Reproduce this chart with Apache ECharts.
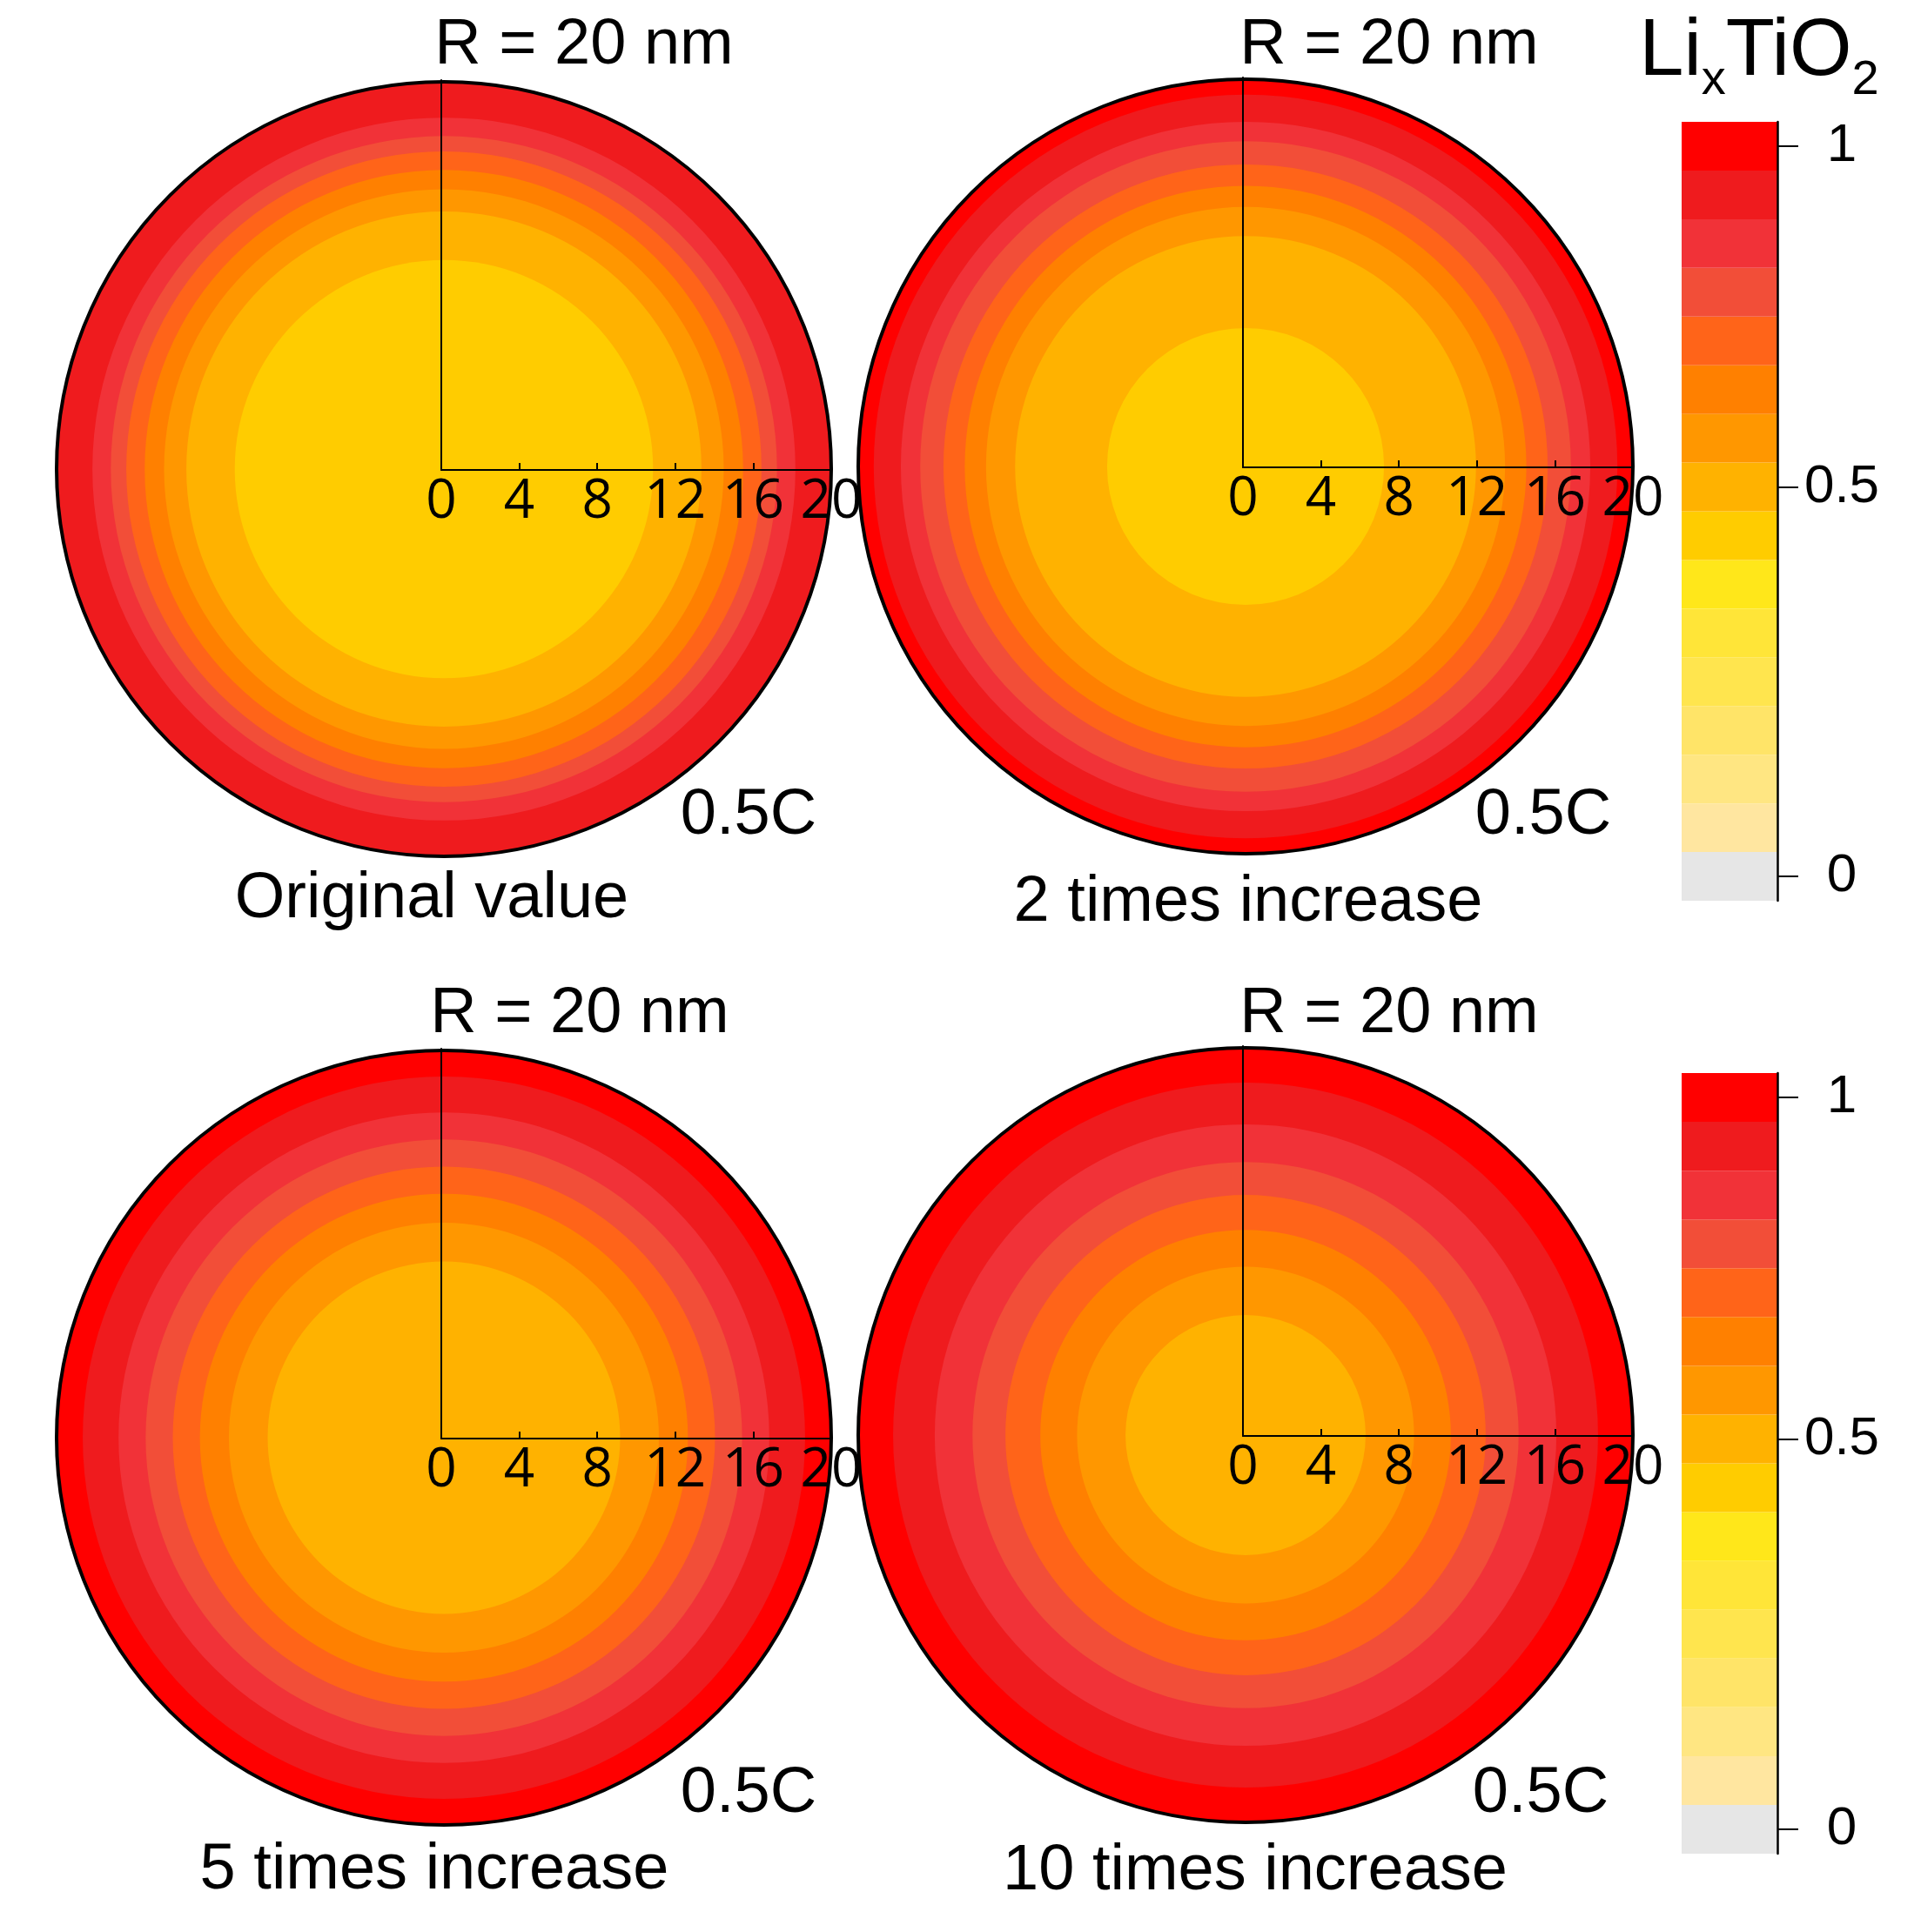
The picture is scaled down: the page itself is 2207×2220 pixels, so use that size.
<!DOCTYPE html>
<html>
<head>
<meta charset="utf-8">
<script src="https://cdn.jsdelivr.net/npm/echarts@6/dist/echarts.min.js"></script>
<style>
html,body{margin:0;padding:0;background:#fff;}
#chart{width:2207px;height:2220px;}
</style>
</head>
<body>
<div id="chart"></div>
<script>
// ---- data ----
// colour levels of the contour map, from level 0 (grey) up to level 15 (red)
const bandColors = ['#E6E6E6','#FFE6A0','#FFE682','#FFE468','#FFE54E','#FFE538','#FFE71A','#FFCC00',
                    '#FFB200','#FF9700','#FF8000','#FF6419','#F24E38','#F13238','#EF1B1E','#FF0000'];
const cbarTickLabels = ['0','','','','','','','','0.5','','','','','','','1'];
const cbarTitle = ['Li','x','TiO','2'];
const radiusLabel = 'R = 20 nm';
const rateLabel = '0.5C';
const panelTitles = ['Original value','2 times increase','5 times increase','10 times increase'];
// contour bands from centre outwards: level index and outer radius (nm)
const origLevels = [7, 8, 9, 10, 11, 12, 13, 14];
const origRadii  = [10.8, 13.3, 14.45, 15.45, 16.4, 17.2, 18.15, 20];
const x2Levels   = [7, 8, 9, 10, 11, 12, 13, 14, 15];
const x2Radii    = [7.15, 11.9, 13.4, 14.5, 15.6, 16.8, 17.8, 19.2, 20];
const x5Levels   = [8, 9, 10, 11, 12, 13, 14, 15];
const x5Radii    = [9.1, 11.1, 12.6, 14.0, 15.4, 16.8, 18.65, 20];
const x10Levels  = [8, 9, 10, 11, 12, 13, 14, 15];
const x10Radii   = [6.2, 8.7, 10.6, 12.4, 14.1, 16.05, 18.2, 20];
const rMax = 20, rTickStep = 4;

// ---- layout ----
const R = 445;
const panels = [
  {levels: origLevels, radii: origRadii, c: [510, 539],  o: [507, 540],  rl: [671, 53],   rate: [860, 938],  tt: [496, 1034]},
  {levels: x2Levels,   radii: x2Radii,   c: [1431, 536], o: [1428, 537], rl: [1596, 53],  rate: [1773, 938], tt: [1434, 1038]},
  {levels: x5Levels,   radii: x5Radii,   c: [510, 1652], o: [507, 1653], rl: [666, 1166], rate: [860, 2062], tt: [499, 2150]},
  {levels: x10Levels,  radii: x10Radii,  c: [1431, 1649],o: [1428, 1650],rl: [1596, 1166],rate: [1770, 2062],tt: [1442, 2151]}
];
const cbars = [{top: 140, height: 895}, {top: 1233, height: 897}];
const cbarLeft = 1932, cbarWidth = 110;

const mainFont = '"Liberation Sans", Arial, sans-serif';
const tickFont = '"Open Sans", "DejaVu Sans", sans-serif';

const polar = [], angleAxis = [], radiusAxis = [], grid = [], xAxis = [], yAxis = [], series = [], graphic = [];

panels.forEach((p, i) => {
  polar.push({center: p.c, radius: R});
  angleAxis.push({polarIndex: i, type: 'category', data: ['all'], startAngle: 90, boundaryGap: true, z: 10,
    axisLine: {show: true, lineStyle: {color: '#000', width: 4}},
    axisTick: {show: false}, axisLabel: {show: false}, splitLine: {show: false}, splitArea: {show: false}});
  radiusAxis.push({polarIndex: i, type: 'value', min: 0, max: rMax, show: false,
    splitLine: {show: false}, axisLine: {show: false}});
  for (let k = p.radii.length - 1; k >= 0; k--) {
    series.push({type: 'bar', coordinateSystem: 'polar', polarIndex: i, silent: true,
      barGap: '-100%', barCategoryGap: '0%',
      data: [p.radii[k]], itemStyle: {color: bandColors[p.levels[k]]}});
  }
  // axes of the quarter plot
  const w = p.c[0] + R - p.o[0];
  grid.push({left: p.o[0], top: p.o[1] - w, width: w, height: w, containLabel: false});
  xAxis.push({gridIndex: i, type: 'value', min: 0, max: rMax, interval: rTickStep, z: 10,
    axisLine: {show: true, lineStyle: {color: '#000', width: 2}},
    axisTick: {show: true, inside: true, length: 8, lineStyle: {color: '#000', width: 2}},
    axisLabel: {show: true, color: '#000', fontFamily: tickFont, fontSize: 62, margin: 6},
    splitLine: {show: false}});
  yAxis.push({gridIndex: i, type: 'value', min: 0, max: rMax, z: 10,
    axisLine: {show: true, lineStyle: {color: '#000', width: 2}},
    axisTick: {show: false}, axisLabel: {show: false}, splitLine: {show: false}});
  graphic.push({type: 'text', x: p.rl[0], y: p.rl[1], z: 100,
    style: {text: radiusLabel, fill: '#000', font: '74px ' + mainFont, align: 'center', verticalAlign: 'middle'}});
  graphic.push({type: 'text', x: p.rate[0], y: p.rate[1], z: 100,
    style: {text: rateLabel, fill: '#000', font: '74px ' + mainFont, align: 'center', verticalAlign: 'middle'}});
  graphic.push({type: 'text', x: p.tt[0], y: p.tt[1], z: 100,
    style: {text: panelTitles[i], fill: '#000', font: '74px ' + mainFont, align: 'center', verticalAlign: 'middle'}});
});

cbars.forEach((cb, j) => {
  const gi = panels.length + j;
  grid.push({left: cbarLeft, top: cb.top, width: cbarWidth, height: cb.height});
  xAxis.push({gridIndex: gi, type: 'value', min: 0, max: 1, show: false});
  const showIdx = (idx) => cbarTickLabels[idx] !== '';
  yAxis.push({gridIndex: gi, type: 'category', position: 'right', z: 10,
    data: bandColors.map((c, k) => 'L' + k),
    axisLine: {show: true, onZero: false, lineStyle: {color: '#000', width: 2.5}},
    axisTick: {show: true, inside: false, alignWithLabel: true, interval: showIdx, length: 24, lineStyle: {color: '#000', width: 2}},
    axisLabel: {show: true, interval: showIdx, formatter: (v, idx) => cbarTickLabels[idx],
      color: '#000', fontFamily: mainFont, fontSize: 62, align: 'center', margin: 74},
    splitLine: {show: false}});
  series.push({type: 'bar', xAxisIndex: gi, yAxisIndex: gi, silent: true, barCategoryGap: '0%',
    data: bandColors.map(c => ({value: 1, itemStyle: {color: c}}))});
});

graphic.push({type: 'text', x: 2021, y: 15, z: 100,
  style: {text: '{a|' + cbarTitle[0] + '}{b|' + cbarTitle[1] + '}{a|' + cbarTitle[2] + '}{b|' + cbarTitle[3] + '}',
    align: 'center', verticalAlign: 'top', fill: '#000',
    rich: {
      a: {fontFamily: mainFont, fontSize: 92, lineHeight: 92, verticalAlign: 'top', fill: '#000', color: '#000'},
      b: {fontFamily: mainFont, fontSize: 56, lineHeight: 106, verticalAlign: 'bottom', fill: '#000', color: '#000'}
    }}});

const chart = echarts.init(document.getElementById('chart'), null, {renderer: 'canvas'});
chart.setOption({
  backgroundColor: '#fff',
  animation: false,
  polar, angleAxis, radiusAxis, grid, xAxis, yAxis, series, graphic
});
</script>
</body>
</html>
